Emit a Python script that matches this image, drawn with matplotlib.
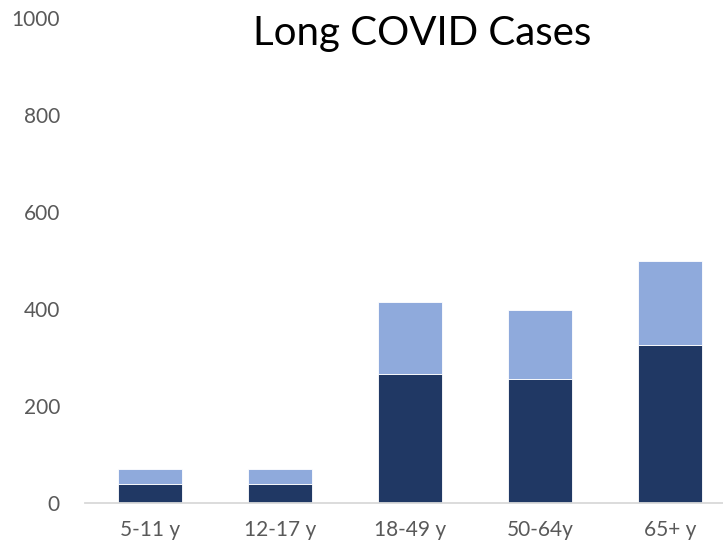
import matplotlib
matplotlib.use("Agg")
import matplotlib.pyplot as plt
import numpy as np

plt.rcParams["font.family"] = ["Lato", "DejaVu Sans"]

# data
groups = ["5-11 y", "12-17 y", "18-49 y", "50-64y", "65+ y"]
lower = [40, 40, 265, 255, 326]     # dark segment
upper = [30, 30, 150, 142, 174]     # light segment stacked on top
yticks = [0, 200, 400, 600, 800, 1000]

DARK = "#203864"
LIGHT = "#8FAADC"
GREY = "#595959"

fig = plt.figure(figsize=(7.23, 5.49), dpi=100)
ax = fig.add_axes([85 / 723, 46 / 549, 650 / 723, 485 / 549])

xs = np.arange(len(groups))
ax.bar(xs, lower, width=0.49, color=DARK, edgecolor="white", linewidth=0.6)
ax.bar(xs, upper, bottom=lower, width=0.49, color=LIGHT,
       edgecolor="white", linewidth=0.6)

ax.set_xlim(-0.5, len(groups) - 0.5)
ax.set_ylim(0, 1000)
ax.set_yticks(yticks)
ax.set_xticks(xs)
ax.set_xticklabels(groups)
ax.tick_params(axis="both", length=0, labelsize=15, colors=GREY)
ax.tick_params(axis="y", pad=18)
ax.tick_params(axis="x", pad=12)

for s in ["top", "right", "left"]:
    ax.spines[s].set_visible(False)
ax.spines["bottom"].set_color("#D9D9D9")
ax.spines["bottom"].set_linewidth(1.3)

fig.text(422 / 723, 1 - 33 / 549, "Long COVID Cases", ha="center",
         va="center", fontsize=29, color="black")

fig.savefig("out.png", dpi=100)
